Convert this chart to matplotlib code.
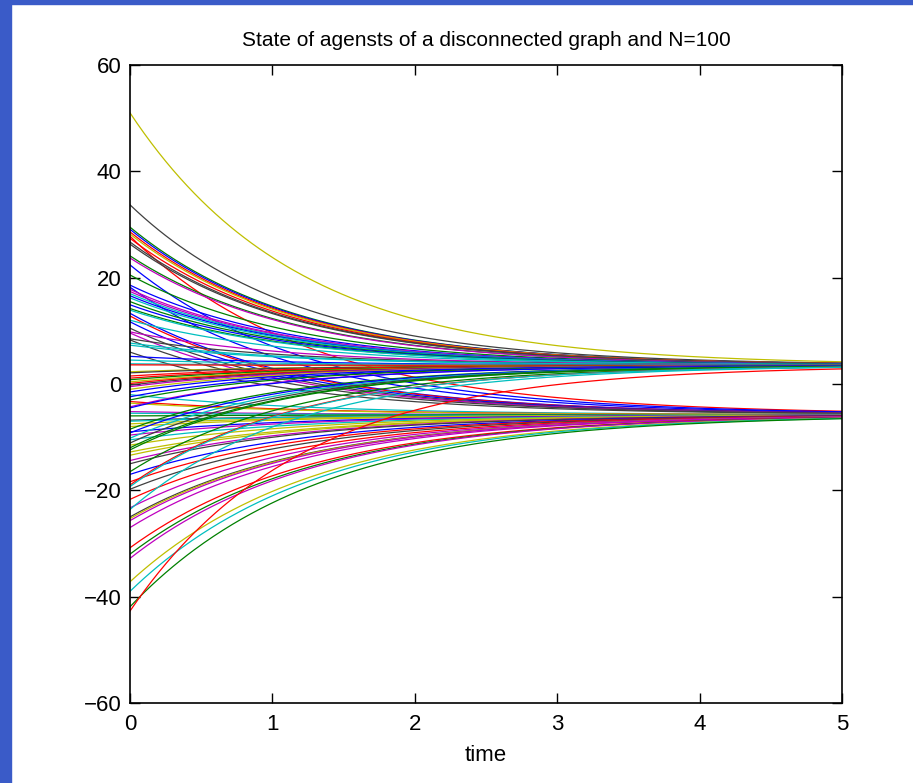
import numpy as np
import matplotlib
matplotlib.use("Agg")
import matplotlib.pyplot as plt
from matplotlib.patches import Rectangle

# initial state of each agent (read at t=0), its colour and which
# component (U = upper, D = lower) it settles into
x0 = [51.0, 33.7, 29.5, 29.1, 28.6, 28.2, 27.8, 27.4, 26.7, 26.3,
      24.1, 23.7, 22.4, 20.5, 18.6, 18.2, 17.8, 17.4, 17.0, 16.6,
      16.2, 15.5, 14.9, 14.2, 13.9, 13.3, 12.8, 12.0, 11.7, 10.5,
      9.8, 9.6, 8.5, 8.3, 7.7, 7.3, 6.0, 5.2, 4.5, 3.8,
      3.6, 2.3, 2.1, 1.5, 1.1, 0.8, 0.4, 0.1, -0.2, -0.5,
      -1.0, -1.5, -2.0, -2.4, -3.0, -3.3, -3.6, -4.3, -4.5, -5.2,
      -5.5, -6.0, -6.8, -7.0, -7.5, -8.0, -8.5, -9.0, -9.2, -9.6,
      -10.2, -10.5, -11.1, -11.5, -12.0, -12.4, -12.8, -13.4, -14.4, -15.0,
      -16.5, -17.0, -18.4, -19.0, -19.3, -19.8, -21.7, -23.3, -23.6, -25.0,
      -25.3, -25.7, -27.0, -30.8, -32.0, -32.8, -37.2, -39.0, -41.9, -42.7]
colors = ["y", "k", "g", "b", "r", "y", "r", "r", "k", "k",
          "g", "m", "b", "g", "b", "b", "m", "m", "c", "b",
          "c", "g", "b", "g", "c", "b", "r", "c", "b", "k",
          "m", "m", "k", "k", "c", "c", "k", "b", "c", "c",
          "r", "y", "k", "r", "r", "g", "y", "r", "k", "m",
          "y", "b", "c", "b", "g", "r", "y", "m", "b", "m",
          "c", "g", "k", "c", "y", "y", "g", "b", "b", "m",
          "c", "c", "k", "y", "g", "g", "y", "y", "m", "k",
          "g", "b", "r", "r", "c", "k", "r", "m", "c", "k",
          "y", "m", "m", "r", "g", "m", "y", "c", "g", "r"]
group = ["U", "U", "U", "U", "U", "U", "D", "U", "U", "U",
         "U", "U", "D", "U", "U", "D", "U", "U", "U", "U",
         "U", "U", "U", "U", "U", "D", "D", "U", "D", "D",
         "U", "D", "U", "D", "U", "U", "D", "U", "U", "U",
         "U", "U", "U", "U", "U", "U", "U", "U", "U", "U",
         "U", "U", "D", "U", "U", "D", "D", "U", "U", "D",
         "D", "D", "D", "D", "D", "D", "U", "D", "U", "D",
         "U", "D", "U", "D", "U", "U", "D", "D", "D", "D",
         "U", "D", "D", "U", "U", "D", "D", "D", "U", "D",
         "D", "D", "D", "D", "D", "D", "D", "D", "D", "U"]

# consensus value and convergence rate of each component
limit = {"U": 3.5, "D": -5.8}
rate = {"U": 0.85, "D": 0.78}

matlab = {"b": (0, 0, 1), "g": (0, 0.5, 0), "r": (1, 0, 0),
          "c": (0, 0.75, 0.75), "m": (0.75, 0, 0.75),
          "y": (0.75, 0.75, 0), "k": (0.25, 0.25, 0.25)}

plt.rcParams["font.family"] = ["Liberation Sans", "DejaVu Sans"]

fig = plt.figure(figsize=(9.13, 7.83), dpi=100)
fig.patches.append(Rectangle((0, 0), 11 / 913, 1, transform=fig.transFigure,
                             color="#3a5bc8", zorder=0))
fig.patches.append(Rectangle((0, 1 - 4 / 783), 1, 4 / 783,
                             transform=fig.transFigure,
                             color="#3a5bc8", zorder=0))

ax = fig.add_axes([130 / 913, 1 - 703 / 783, 712 / 913, 638 / 783])
t = np.linspace(0, 5, 300)
for v, c, g in zip(x0, colors, group):
    x = limit[g] + (v - limit[g]) * np.exp(-rate[g] * t)
    ax.plot(t, x, color=matlab[c], linewidth=0.9)

ax.set_xlim(0, 5)
ax.set_ylim(-60, 60)
ax.set_xticks([0, 1, 2, 3, 4, 5])
ax.set_yticks([-60, -40, -20, 0, 20, 40, 60])
ax.set_yticklabels(["\u221260", "\u221240", "\u221220", "0", "20", "40", "60"])
ax.tick_params(direction="in", length=7, width=1, top=True, right=True,
               labelsize=16, pad=6)
ax.tick_params(axis="x", pad=8)
for s in ax.spines.values():
    s.set_linewidth(1.2)
ax.set_title("State of agensts of a disconnected graph and N=100",
             fontsize=15, pad=14)
ax.set_xlabel("time", fontsize=16, labelpad=7)

fig.savefig("out.png", dpi=100)
